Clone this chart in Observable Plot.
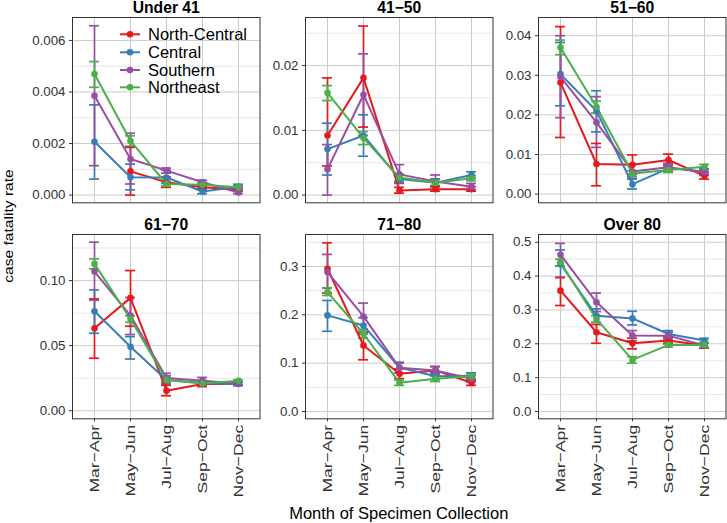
<!DOCTYPE html>
<html><head><meta charset="utf-8">
<script src="https://cdn.jsdelivr.net/npm/d3@7"></script>
<script src="https://cdn.jsdelivr.net/npm/@observablehq/plot@0.6"></script>
<style>
body{margin:0;background:#fff;font-family:"Liberation Sans",Arial,sans-serif;}
#chart{position:relative;width:727px;height:523px;overflow:hidden;background:#fff;}
#chart svg{position:absolute;overflow:visible;}
</style></head><body><div id="chart"></div>
<script>
// ---------- data ----------
const months = ["Mar−Apr","May−Jun","Jul−Aug","Sep−Oct","Nov−Dec"];
const regions = ["North-Central","Central","Southern","Northeast"];
const regionColors = ["#E41A1C","#377EB8","#984EA3","#4DAF4A"];
const ageGroups = ["Under 41","41−50","51−60","61−70","71−80","Over 80"];

// rows: North-Central, Central, Southern, Northeast ; columns: months
const under41Rate = [[null,0.00092,0.0005,0.0003,0.00022],[0.00207,0.00069,0.00068,0.00014,0.00032],[0.00385,0.0014,0.00095,0.0005,0.0001],[0.0047,0.0021,0.00043,0.0004,0.0003]];
const under41Lo   = [[null,0.0,0.0003,0.0002,0.00015],[0.00062,0.0002,0.00045,0.00005,0.00022],[0.00114,0.00043,0.00085,0.00042,0.00005],[0.00418,0.0019,0.00035,0.00033,0.00024]];
const under41Hi   = [[null,0.00185,0.0007,0.0004,0.0003],[0.0035,0.0012,0.00097,0.00025,0.00042],[0.00657,0.0024,0.00105,0.00058,0.00017],[0.00518,0.0023,0.00052,0.00047,0.00036]];

const a4150Rate = [[0.0092,0.0181,0.0007,0.0009,0.0009],[0.0071,0.0092,0.0025,0.0019,0.0031],[0.0040,0.0155,0.0032,0.0021,0.0013],[0.0158,0.0088,0.0027,0.0019,0.0026]];
const a4150Lo   = [[0.0045,0.0105,0.0003,0.0006,0.0006],[0.0031,0.0060,0.0018,0.0014,0.0026],[0.0,0.0092,0.0020,0.0013,0.0008],[0.0146,0.0078,0.0022,0.0015,0.0022]];
const a4150Hi   = [[0.0181,0.0261,0.0012,0.0013,0.0013],[0.0111,0.0124,0.0032,0.0025,0.0036],[0.0078,0.0218,0.0047,0.0031,0.0018],[0.0169,0.0098,0.0032,0.0024,0.0030]];

const a5160Rate = [[0.0282,0.0076,0.0074,0.0086,0.0046],[0.0303,0.0210,0.0025,0.0065,0.0057],[0.0296,0.0181,0.0057,0.0068,0.0055],[0.0370,0.0220,0.0052,0.0061,0.0069]];
const a5160Lo   = [[0.0143,0.0021,0.0050,0.0072,0.0038],[0.0223,0.0157,0.0013,0.0055,0.0050],[0.0193,0.0118,0.0040,0.0058,0.0047],[0.0352,0.0205,0.0045,0.0055,0.0062]];
const a5160Hi   = [[0.0423,0.0128,0.0099,0.0101,0.0055],[0.0383,0.0261,0.0038,0.0076,0.0064],[0.0400,0.0246,0.0076,0.0078,0.0063],[0.0389,0.0235,0.0059,0.0067,0.0075]];

const a6170Rate = [[0.0633,0.0867,0.0154,0.0205,0.0208],[0.0764,0.0492,0.0236,0.0213,0.0205],[0.1069,0.0731,0.0251,0.0230,0.0210],[0.1128,0.0705,0.0236,0.0210,0.0230]];
const a6170Lo   = [[0.0403,0.0649,0.0115,0.0185,0.0195],[0.0595,0.0397,0.0205,0.0195,0.0193],[0.0850,0.0585,0.0215,0.0205,0.0198],[0.1090,0.0680,0.0220,0.0200,0.0222]];
const a6170Hi   = [[0.0859,0.1077,0.0195,0.0225,0.0222],[0.0928,0.0569,0.0268,0.0232,0.0218],[0.1295,0.0870,0.0287,0.0256,0.0222],[0.1167,0.0730,0.0252,0.0222,0.0238]];

const a7180Rate = [[0.2954,0.1366,0.0780,0.0850,0.0594],[0.1988,0.1780,0.0910,0.0730,0.0740],[0.2884,0.1967,0.0904,0.0850,0.0676],[0.2470,0.1608,0.0594,0.0676,0.0730]];
const a7180Lo   = [[0.245,0.107,0.068,0.077,0.054],[0.166,0.160,0.080,0.066,0.068],[0.255,0.170,0.080,0.077,0.061],[0.240,0.152,0.054,0.062,0.068]];
const a7180Hi   = [[0.349,0.164,0.088,0.093,0.065],[0.2298,0.194,0.102,0.080,0.080],[0.325,0.2243,0.100,0.093,0.074],[0.256,0.169,0.065,0.073,0.078]];

const over80Rate = [[0.357,0.234,0.2016,0.2094,0.1947],[0.4356,0.283,0.275,0.229,0.2094],[0.4631,0.3225,0.2242,0.224,0.195],[0.4405,0.273,0.1524,0.1967,0.1967]];
const over80Lo   = [[0.313,0.2016,0.185,0.200,0.187],[0.396,0.263,0.2557,0.219,0.203],[0.430,0.295,0.209,0.214,0.188],[0.429,0.2635,0.1426,0.190,0.190]];
const over80Hi   = [[0.396,0.257,0.217,0.219,0.203],[0.477,0.303,0.296,0.239,0.216],[0.4966,0.350,0.239,0.234,0.202],[0.450,0.283,0.162,0.204,0.204]];

// y tick labels per panel
const ticksUnder41 = [0,0.002,0.004,0.006];
const ticks4150 = [0,0.01,0.02];
const ticks5160 = [0,0.01,0.02,0.03,0.04];
const ticks6170 = [0,0.05,0.10];
const ticks7180 = [0,0.1,0.2,0.3];
const ticksOver80 = [0,0.1,0.2,0.3,0.4,0.5];

// ---------- layout ----------
const panels = [
  {rate:under41Rate, lo:under41Lo, hi:under41Hi, ticks:ticksUnder41, fmt:".3f", domain:[-0.0003,0.00689], row:0, col:0},
  {rate:a4150Rate, lo:a4150Lo, hi:a4150Hi, ticks:ticks4150, fmt:".2f", domain:[-0.00119,0.02742], row:0, col:1},
  {rate:a5160Rate, lo:a5160Lo, hi:a5160Hi, ticks:ticks5160, fmt:".2f", domain:[-0.0022,0.0446], row:0, col:2},
  {rate:a6170Rate, lo:a6170Lo, hi:a6170Hi, ticks:ticks6170, fmt:".2f", domain:[-0.0062,0.1354], row:1, col:0},
  {rate:a7180Rate, lo:a7180Lo, hi:a7180Hi, ticks:ticks7180, fmt:".1f", domain:[-0.0151,0.3662], row:1, col:1},
  {rate:over80Rate, lo:over80Lo, hi:over80Hi, ticks:ticksOver80, fmt:".1f", domain:[-0.0216,0.5228], row:1, col:2}
];
const colLeft = [71.7, 305, 538.3];
const panelW = 187.5;
const rowTop = [17, 234];
const panelH = [185.3, 184.3];
const mL = 50, mT = 24, mR = 2;

const chart = document.getElementById("chart");

function midTicks(t){ const m=[]; for(let i=0;i<t.length;i++){ const s = i<t.length-1 ? t[i+1]-t[i] : t[1]-t[0]; m.push(t[i]+s/2);} return m; }

panels.forEach((p, k) => {
  const data = [];
  regions.forEach((r, i) => months.forEach((m, j) => {
    if (p.rate[i][j] != null) data.push({region:r, month:m, rate:p.rate[i][j], lo:p.lo[i][j], hi:p.hi[i][j]});
  }));
  const mB = p.row === 1 ? 90 : 6;
  const minor = midTicks(p.ticks).filter(v => v < p.domain[1]);
  const marks = [
    Plot.gridY(minor, {stroke:"#d6d6d6", strokeOpacity:1, strokeWidth:0.6}),
    Plot.gridY(p.ticks, {stroke:"#cccccc", strokeOpacity:1, strokeWidth:1}),
    Plot.gridX(months, {stroke:"#cccccc", strokeOpacity:1, strokeWidth:1}),
    Plot.ruleX(data, {x:"month", y1:"lo", y2:"hi", stroke:"region", strokeWidth:1.7}),
    Plot.ruleY(data, {y:"lo", x1:"month", x2:"month", insetLeft:-5, insetRight:-5, stroke:"region", strokeWidth:1.7}),
    Plot.ruleY(data, {y:"hi", x1:"month", x2:"month", insetLeft:-5, insetRight:-5, stroke:"region", strokeWidth:1.7}),
    Plot.line(data, {x:"month", y:"rate", z:"region", stroke:"region", strokeWidth:2}),
    Plot.dot(data, {x:"month", y:"rate", fill:"region", r:3.3}),
    Plot.frame({stroke:"#333333", strokeWidth:1}),
    Plot.axisY(p.ticks, {tickFormat:d3.format(p.fmt), tickSize:3, tickPadding:4, fontSize:13.3, label:null, anchor:"left"}),
    Plot.text([ageGroups[k]], {frameAnchor:"top", dy:-4, lineAnchor:"bottom", fontWeight:"bold", fontSize:15.7, fill:"#000"})
  ];
  if (p.row === 1) marks.push(Plot.axisX(months, {tickRotate:-90, tickSize:3, tickPadding:3, fontSize:13.5, label:null, anchor:"bottom"}));
  const svg = Plot.plot({
    width: mL + panelW + mR,
    height: mT + panelH[p.row] + mB,
    marginLeft: mL, marginRight: mR, marginTop: mT, marginBottom: mB,
    x: {type:"point", domain: months, padding:0.6, axis:null, label:null},
    y: {domain: p.domain, axis:null, label:null},
    color: {domain: regions, range: regionColors},
    style: {fontFamily:"Liberation Sans, Arial, sans-serif", color:"#333", background:"transparent", overflow:"visible"},
    marks
  });
  svg.style.left = (colLeft[p.col] - mL) + "px";
  svg.style.top = (rowTop[p.row] - mT) + "px";
  // rotated labels are elongated along their length in the reference
  svg.querySelectorAll('[aria-label="x-axis tick label"] text').forEach(t => {
    const tr = t.getAttribute("transform");
    if (tr) t.setAttribute("transform", tr + " scale(1.3,1)");
  });
  chart.appendChild(svg);
});

// ---------- overlay: axis titles + legend ----------
const ov = d3.select(chart).append("svg").attr("width",727).attr("height",523)
  .style("left","0px").style("top","0px").style("font-family","Liberation Sans, Arial, sans-serif");
ov.append("text").attr("transform","translate(13,226) rotate(-90) scale(1.25,1)")
  .attr("text-anchor","middle").attr("font-size",12.5).attr("fill","#000").text("case fatality rate");
ov.append("text").attr("x",398.8).attr("y",518.5).attr("text-anchor","middle")
  .attr("font-size",16.5).attr("fill","#000").text("Month of Specimen Collection");
const legY = [34.3, 52.3, 70, 87.3];
regions.forEach((r,i) => {
  ov.append("line").attr("x1",120).attr("x2",140).attr("y1",legY[i]).attr("y2",legY[i])
    .attr("stroke",regionColors[i]).attr("stroke-width",2);
  ov.append("circle").attr("cx",130).attr("cy",legY[i]).attr("r",3.3).attr("fill",regionColors[i]);
  ov.append("text").attr("x",148).attr("y",legY[i]).attr("dy","0.35em").attr("font-size",16.5)
    .attr("fill","#000").text(r);
});
</script></body></html>
